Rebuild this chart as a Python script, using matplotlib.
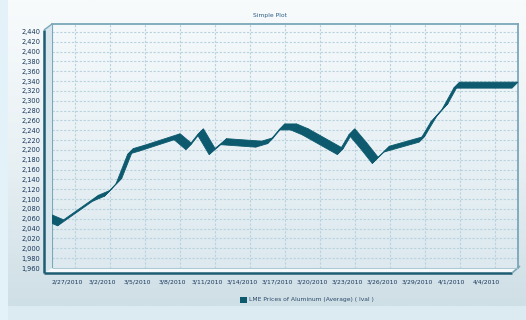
# LME aluminium price chart, "Simple Plot" with 3D-looking frame and ribbon line
import numpy as np
import pandas as pd
import matplotlib
matplotlib.use("Agg")
import matplotlib.pyplot as plt
import matplotlib.dates as mdates
from matplotlib.colors import LinearSegmentedColormap
from matplotlib.patches import Polygon
from matplotlib.lines import Line2D
from matplotlib.transforms import ScaledTranslation

# ======================
# data
# ======================
dates = pd.to_datetime([
    '2010-02-25', '2010-02-26', '2010-03-01', '2010-03-02', '2010-03-03',
    '2010-03-04', '2010-03-05', '2010-03-08', '2010-03-09', '2010-03-10',
    '2010-03-11', '2010-03-12', '2010-03-15', '2010-03-16', '2010-03-17',
    '2010-03-18', '2010-03-19', '2010-03-22', '2010-03-23', '2010-03-24',
    '2010-03-25', '2010-03-26', '2010-03-29', '2010-03-30', '2010-03-31',
    '2010-04-01', '2010-04-06',
])
prices = [2068, 2058, 2108, 2118, 2143,
          2203, 2210, 2233, 2213, 2243,
          2203, 2223, 2218, 2225, 2253,
          2253, 2243, 2203, 2243, 2215,
          2185, 2208, 2228, 2268, 2295,
          2338, 2338]

tick_dates = pd.date_range('2010-02-27', '2010-04-04', freq='3D')
tick_labels = [f"{d.month}/{d.day}/{d.year}" for d in tick_dates]
y_ticks = np.arange(1960, 2441, 20)
y_labels = [f"{v:,}" for v in y_ticks]

title = "Simple Plot"
series_name = "LME Prices of Aluminum (Average) ( lval )"

W, H = 526, 320
ribbon_col = '#0d5a6f'
frame_dark = '#1d5c73'
frame_light = '#7aa7b9'
text_col = '#18365a'

fig = plt.figure(figsize=(W / 100, H / 100), dpi=100)


def px(x, y):
    # pixel position (from top-left) -> figure fraction
    return x / W, 1 - y / H


# ======================
# background
# ======================
bg = fig.add_axes([0, 0, 1, 1], zorder=-10)
bg.set_axis_off()
bg.set_xlim(0, W)
bg.set_ylim(H, 0)
grad = np.linspace(0, 1, 256).reshape(-1, 1)
bg_cmap = LinearSegmentedColormap.from_list('bg', ['#f8fbfc', '#e9f1f4', '#cfdfe6'])
bg.imshow(grad, cmap=bg_cmap, aspect='auto', extent=(8, W, 306, 0))
bg.add_patch(plt.Rectangle((0, 0), 8, H, color='#e3f2f9', lw=0))
bg.add_patch(plt.Rectangle((8, 306), W - 8, H - 306, color='#dcebf2', lw=0))

# ======================
# main plot (back wall)
# ======================
left, right, top, bottom = 52, 518, 24, 268
x0, y0 = px(left, bottom)
x1, y1 = px(right, top)
ax = fig.add_axes([x0, y0, x1 - x0, y1 - y0])
ax.set_xlim(mdates.date2num(pd.Timestamp('2010-02-25')), mdates.date2num(pd.Timestamp('2010-04-06')))
ax.set_ylim(1960, 1960 + (bottom - top) / 0.4917)

wall_cmap = LinearSegmentedColormap.from_list('wall', ['#f4f9fb', '#dde9ef'])
ax.imshow(grad, cmap=wall_cmap, aspect='auto', extent=(0, 1, 0, 1),
          transform=ax.transAxes, zorder=0)
ax.set_facecolor('none')

ax.set_yticks(y_ticks)
ax.set_yticklabels(y_labels)
ax.set_xticks(mdates.date2num(tick_dates))
ax.set_xticklabels(tick_labels)
ax.tick_params(axis='y', length=0, pad=8.5, labelsize=4.8, labelcolor=text_col)
ax.tick_params(axis='x', length=0, pad=8, labelsize=4.4, labelcolor=text_col)
shift = ScaledTranslation(-8 / 100, 0, fig.dpi_scale_trans)
for lab in ax.get_xticklabels():
    lab.set_transform(lab.get_transform() + shift)

ax.grid(True, color='#b8d2de', linestyle=(0, (2, 1.5)), linewidth=0.8, zorder=1)
ax.set_axisbelow(True)
for side in ['top', 'right']:
    ax.spines[side].set_color(frame_light)
    ax.spines[side].set_linewidth(1.3)
ax.spines['left'].set_color(frame_light)
ax.spines['left'].set_linewidth(0.8)
ax.spines['bottom'].set_visible(False)

# ribbon line (3D look): each segment joined to a copy pushed towards the front
xs = mdates.date2num(dates)
dx = -6 / 11.67
dy = -6 / 0.4917
for i in range(len(xs) - 1):
    quad = [(xs[i], prices[i]), (xs[i + 1], prices[i + 1]),
            (xs[i + 1] + dx, prices[i + 1] + dy), (xs[i] + dx, prices[i] + dy)]
    ax.add_patch(Polygon(quad, closed=True, facecolor=ribbon_col,
                         edgecolor=ribbon_col, linewidth=0.6, zorder=7,
                         clip_on=False))

# ======================
# front frame (left wall + floor)
# ======================
floor = Polygon([px(44, 273), px(52, 268), px(518, 268), px(512, 273)],
                closed=True, transform=fig.transFigure, facecolor='#f5f9fb',
                edgecolor='none', zorder=5)
fig.add_artist(floor)
wall = Polygon([px(44, 30), px(52, 24), px(52, 268), px(44, 273)],
               closed=True, transform=fig.transFigure, facecolor='#d7e6ed',
               edgecolor='none', zorder=5)
fig.add_artist(wall)

segments = [
    ([44, 52], [30, 24], frame_light, 1.0),
    ([44, 44], [30, 273], frame_dark, 1.8),
    ([44, 512], [273, 273], frame_dark, 1.8),
    ([512, 520], [273, 266], frame_light, 1.2),
    ([52, 518], [268, 268], '#9fc0ce', 0.6),
]
for xx, yy, col, lw in segments:
    pts = [px(a, b) for a, b in zip(xx, yy)]
    fig.add_artist(Line2D([p[0] for p in pts], [p[1] for p in pts],
                          transform=fig.transFigure, color=col, linewidth=lw,
                          solid_capstyle='butt', zorder=6))

# ======================
# title and legend
# ======================
tx, ty = px(270, 16)
fig.text(tx, ty, title, fontsize=4.3, color='#2b5c86', ha='center', va='center')

lx, ly = px(240, 303)
fig.add_artist(plt.Rectangle((lx, ly), 7 / W, 6 / H, transform=fig.transFigure,
                             facecolor=ribbon_col, edgecolor='none'))
tx, ty = px(249, 300)
fig.text(tx, ty, series_name, fontsize=4.3, color='#2a4a6a', ha='left', va='center')

plt.savefig("out.png", dpi=100)
